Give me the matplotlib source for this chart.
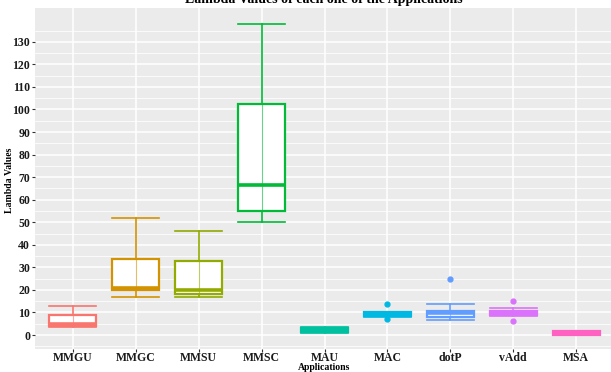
import numpy as np
import matplotlib
matplotlib.use("Agg")
from matplotlib import pyplot as plt

apps = ["MMGU", "MMGC", "MMSU", "MMSC", "MAU", "MAC", "dotP", "vAdd", "MSA"]
colors = ["#F8766D", "#D39200", "#93AA00", "#00BA38", "#00C19F",
          "#00B9E3", "#619CFF", "#DB72FB", "#FF61C3"]
whislo = [3.5, 17, 17, 50, 1.0, 8.0, 6.8, 8.3, 0.0]
q1 = [4.1, 20, 18, 55, 1.5, 8.5, 7.8, 8.8, 0.2]
med = [4.8, 21, 20, 66.5, 2.3, 9.5, 9.7, 9.9, 0.8]
q3 = [8.8, 33.5, 33, 102.5, 3.0, 10.0, 10.7, 10.7, 1.6]
whishi = [13, 52, 46, 138, 3.5, 10.2, 13.7, 11.8, 1.8]
outliers = [[], [], [], [], [], [13.7, 7.2], [24.8], [14.9, 6.2], []]

plt.rcParams['font.family'] = ['Liberation Serif', 'DejaVu Serif']
plt.rcParams['font.weight'] = 'bold'

fig = plt.figure(figsize=(6.11, 3.72), dpi=100)
ax = fig.add_axes([35/611, 23/372, 579/611, 341/372])
ax.set_facecolor("#EBEBEB")
for s in ax.spines.values():
    s.set_visible(False)

for i in range(len(apps)):
    st = [dict(whislo=whislo[i], q1=q1[i], med=med[i], q3=q3[i],
               whishi=whishi[i], fliers=outliers[i])]
    c = colors[i]
    ax.bxp(st, positions=[i + 1], widths=0.75, patch_artist=True,
           manage_ticks=False,
           boxprops=dict(facecolor='white', edgecolor=c, lw=1.6),
           medianprops=dict(color=c, lw=2.6),
           whiskerprops=dict(color=c, lw=1.2),
           capprops=dict(color=c, lw=1.2),
           capwidths=0.75,
           flierprops=dict(marker='o', markerfacecolor=c, markeredgecolor=c,
                           markersize=3.5))
    ax.plot([i + 1, i + 1], [q1[i], q3[i]], color=c, lw=0.8, alpha=0.6)

ax.set_ylim(-6.2, 145)
ax.set_xlim(0.4, 9.6)
ax.set_yticks(np.arange(0, 131, 10))
ax.set_yticks(np.arange(-5, 145, 10), minor=True)
ax.set_xticks(range(1, 10))
ax.set_xticks([], minor=True)
ax.set_xticklabels(apps)
ax.grid(True, which='major', color='white', lw=1.1)
ax.grid(True, which='minor', axis='y', color='white', lw=0.55)
ax.set_axisbelow(True)
ax.tick_params(axis='both', which='major', length=2.5, color='#333333',
               labelsize=8.5, pad=1)
ax.tick_params(axis='x', which='major', pad=0)
ax.tick_params(axis='y', which='minor', length=0)
for lab in ax.get_xticklabels() + ax.get_yticklabels():
    lab.set_fontweight('bold')
    lab.set_color('#1a1a1a')

fig.text(10/611, 1 - 180/372, "Lambda Values", rotation=90, ha='center',
         va='center', fontsize=7, fontweight='bold')
fig.text(324/611, 1 - 367.5/372, "Applications", ha='center', va='center',
         fontsize=7, fontweight='bold')
fig.text(324/611, 1.0, "Lambda Values of each one of the Applications",
         ha='center', va='center', fontsize=10, fontweight='bold')

fig.savefig("out.png", dpi=100)
